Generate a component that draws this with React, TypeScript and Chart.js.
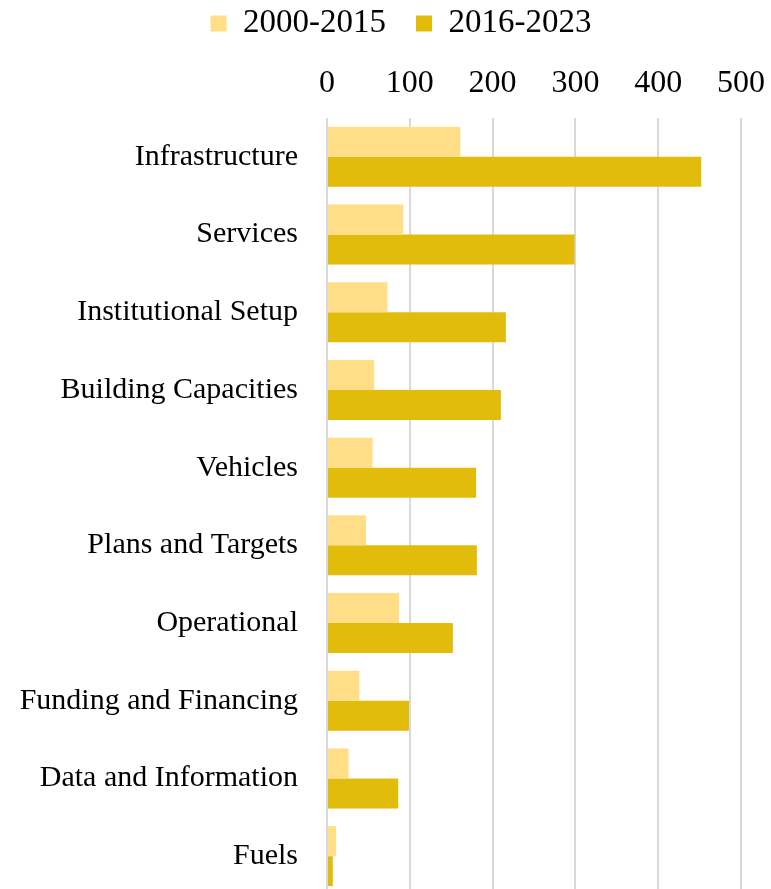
import React, { useEffect, useRef } from "react";
import { Chart, registerables } from "chart.js";

Chart.register(...registerables);

const categories = [
  "Infrastructure",
  "Services",
  "Institutional Setup",
  "Building Capacities",
  "Vehicles",
  "Plans and Targets",
  "Operational",
  "Funding and Financing",
  "Data and Information",
  "Fuels",
];
const series2000to2015 = [161, 92, 73, 57, 55, 47, 87, 39, 26, 11];
const series2016to2023 = [452, 299, 216, 210, 180, 181, 152, 99, 86, 7];
const seriesNames = ["2000-2015", "2016-2023"];
const seriesColors = ["#FFDE87", "#E2BC0B"];
const tickMin = 0;
const tickMax = 500;
const tickStep = 100;

const FONT = "'Liberation Serif', 'Times New Roman', serif";
const LEGEND_LEFT = 61;
const PAD_TOP = -23;

const legendShift = {
  id: "legendShift",
  beforeDraw(chart: any) {
    if (chart.legend) chart.legend.left = LEGEND_LEFT;
  },
};

export default function App() {
  const ref = useRef<HTMLCanvasElement | null>(null);
  useEffect(() => {
    if (!ref.current) return;
    const chart = new Chart(ref.current, {
      type: "bar",
      data: {
        labels: categories,
        datasets: [
          {
            label: seriesNames[0],
            data: series2000to2015,
            backgroundColor: seriesColors[0],
            barPercentage: 1,
            categoryPercentage: 0.772,
          },
          {
            label: seriesNames[1],
            data: series2016to2023,
            backgroundColor: seriesColors[1],
            barPercentage: 1,
            categoryPercentage: 0.772,
          },
        ],
      },
      plugins: [legendShift],
      options: {
        indexAxis: "y",
        animation: false,
        responsive: false,
        maintainAspectRatio: false,
        layout: { padding: { left: 0, right: 30, top: PAD_TOP, bottom: 5 } },
        plugins: {
          legend: {
            position: "top",
            labels: {
              boxWidth: 16,
              boxHeight: 16,
              color: "#000",
              padding: 30,
              font: { family: FONT, size: 33 },
            },
          },
          tooltip: { enabled: false },
        },
        scales: {
          x: {
            position: "top",
            min: tickMin,
            max: tickMax,
            ticks: {
              stepSize: tickStep,
              color: "#000",
              padding: 15,
              font: { family: FONT, size: 32 },
            },
            grid: { color: "#D9D9D9", lineWidth: 2, drawTicks: false },
            border: { display: false },
            afterFit: (s: any) => {
              const legend = s.chart.legend;
              const legendBottom = legend && legend.height ? PAD_TOP + legend.height : 70;
              s.height = 118 - legendBottom;
              s.paddingLeft = 0;
              s.paddingRight = 0;
            },
          },
          y: {
            ticks: {
              color: "#000",
              padding: 21,
              font: { family: FONT, size: 30 },
            },
            grid: { display: false },
            border: { display: false },
            afterFit: (s: any) => {
              s.width = 327;
              s.paddingTop = 0;
              s.paddingBottom = 0;
            },
          },
        },
      },
    });
    return () => chart.destroy();
  }, []);
  return (
    <div
      style={{
        position: "fixed",
        left: 0,
        top: 0,
        width: 771,
        height: 889,
        overflow: "hidden",
        background: "#fff",
      }}
    >
      <canvas ref={ref} width={771} height={900} style={{ display: "block" }} />
    </div>
  );
}
